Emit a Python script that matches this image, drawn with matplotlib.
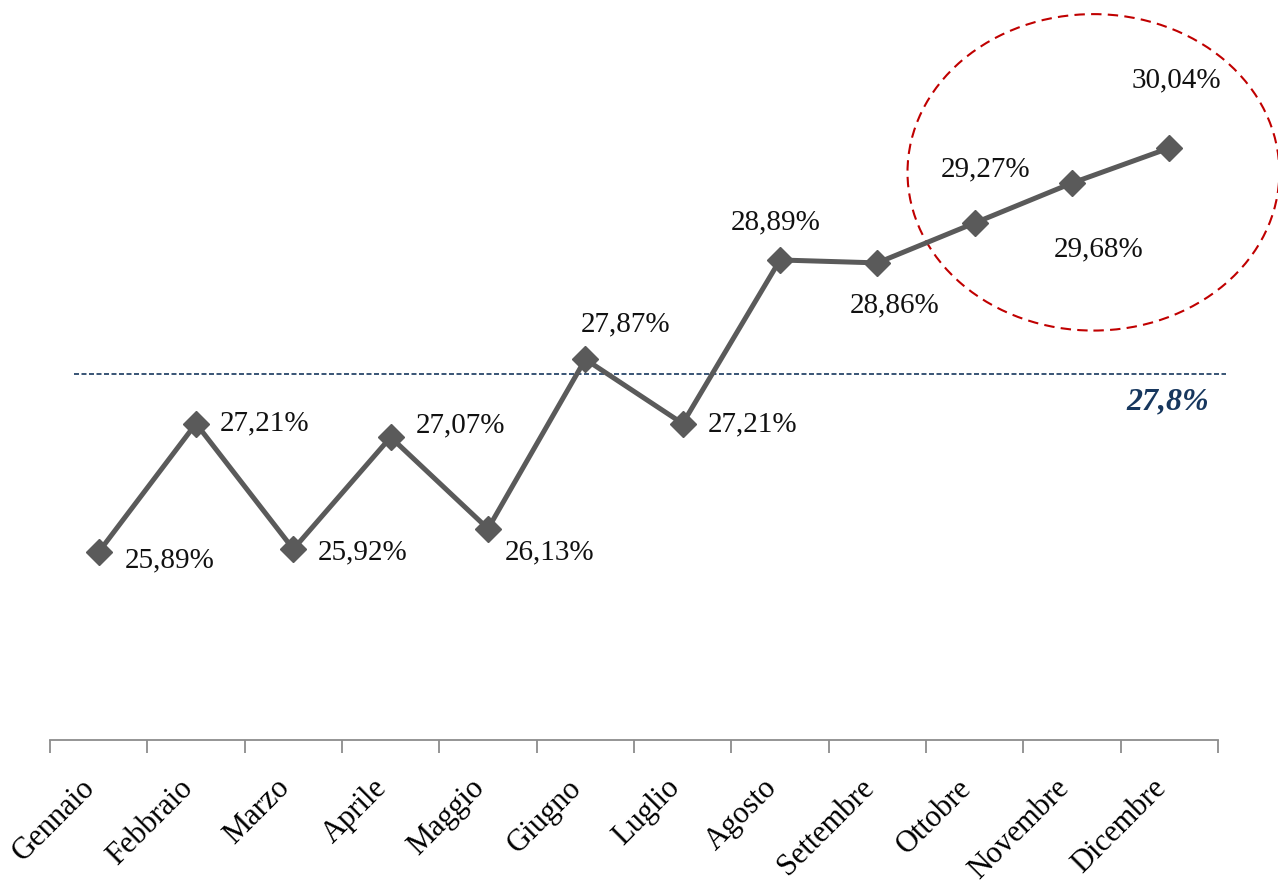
import matplotlib.pyplot as plt
import matplotlib.transforms as mtransforms
from matplotlib.patches import Ellipse

months = ["Gennaio", "Febbraio", "Marzo", "Aprile", "Maggio", "Giugno",
          "Luglio", "Agosto", "Settembre", "Ottobre", "Novembre", "Dicembre"]
values = [25.89, 27.21, 25.92, 27.07, 26.13, 27.87,
          27.21, 28.89, 28.86, 29.27, 29.68, 30.04]
avg_value = 27.72
avg_label = "27,8%"

# label offsets in pixels (dx, dy) relative to each point
offsets = [(71, -8), (69, 0), (69, -3), (70, 12), (62, -24), (40, 35),
           (70, -1), (-4, 38), (17, -42), (11, 54), (27, -66), (7, 68)]

plt.rcParams['font.family'] = ['Liberation Serif', 'DejaVu Serif']

fig = plt.figure(figsize=(12.78, 8.89), dpi=100)
ax = fig.add_axes([50 / 1278, (889 - 740) / 889, 1168 / 1278, 740 / 889])

x = list(range(len(months)))
ax.plot(x, values, color='#5a5a5a', lw=3.6, marker='D', ms=13,
        markeredgecolor='#5a5a5a', zorder=3, clip_on=False)

for i, v in enumerate(values):
    ax.annotate(f"{v:.2f}%".replace('.', ','), (i, v), xytext=offsets[i],
                textcoords='offset pixels', ha='center', va='center',
                fontsize=21, color='#111111')

ax.plot([-0.25, 11.58], [avg_value, avg_value], color='#17375E', lw=1.2,
        ls=(0, (3, 1.5)), clip_on=False, zorder=2)
ax.text(10.98, avg_value - 0.29, avg_label, ha='center', va='center',
        fontsize=23, fontweight='bold', fontstyle='italic', color='#17375E')

ell = Ellipse((10.22, 29.79), 3.82, 3.25, fill=False, edgecolor='#C00000',
              lw=1.5, ls=(0, (5, 3)), clip_on=False)
ax.add_patch(ell)

ax.set_xlim(-0.5, 11.5)
ax.set_ylim(23.96, 31.56)
ax.set_yticks([])
for s in ['top', 'right', 'left']:
    ax.spines[s].set_visible(False)
ax.spines['bottom'].set_color('#8c8c8c')
ax.spines['bottom'].set_linewidth(1.3)

ax.set_xticks(x)
ax.set_xticklabels(months, rotation=45, ha='right', va='top',
                   rotation_mode='anchor', fontsize=22)
ax.tick_params(axis='x', which='major', length=0, pad=24)
shift = mtransforms.ScaledTranslation(-18 / 100, 0, fig.dpi_scale_trans)
for lab in ax.get_xticklabels():
    lab.set_transform(lab.get_transform() + shift)
ax.set_xticks([i - 0.5 for i in range(len(months) + 1)], minor=True)
ax.tick_params(axis='x', which='minor', length=9, width=1.3,
               color='#8c8c8c', direction='out')

fig.savefig("out.png", dpi=100)
